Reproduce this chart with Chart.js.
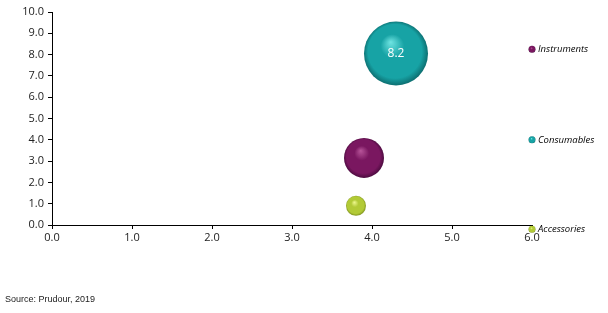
<!DOCTYPE html>
<html><head><meta charset="utf-8">
<script src="https://cdn.jsdelivr.net/npm/chart.js@4/dist/chart.umd.min.js"></script>
<style>html,body{margin:0;padding:0;background:#fff}#wrap{position:relative;width:608px;height:313px}</style>
</head><body><div id="wrap"><canvas id="c" width="608" height="313"></canvas></div>
<script>
// Data
const categories = ['Consumables', 'Instruments', 'Accessories'];
const xValues = [4.3, 3.9, 3.8];
const yValues = [8.05, 3.15, 0.9];
const sizes = [8.2, 3.2, 0.8];
const sizeLabels = ['8.2', '', ''];
const bubbleColors = [
  {light:'#6fe4e2', base:'#17a3a5', dark:'#0a6264'},
  {light:'#b8559a', base:'#7a1760', dark:'#420838'},
  {light:'#eef88f', base:'#b2ca36', dark:'#76881a'}
];
const legendLabels = ['Instruments', 'Consumables', 'Accessories'];
const legendX = [6, 6, 6];
const legendY = [8.25, 4.0, -0.2];
const legendColors = [bubbleColors[1], bubbleColors[0], bubbleColors[2]];
const xTicks = [0,1,2,3,4,5,6];
const yTicks = [0,1,2,3,4,5,6,7,8,9,10];
const maxRadius = 32;
const maxSize = Math.max(...sizes);

function applySphere(chart, dsIndex, cols) {
  const meta = chart.getDatasetMeta(dsIndex);
  const c = chart.ctx;
  meta.data.forEach((el, i) => {
    const col = cols[i];
    const r = el.options.radius;
    const px = el.x, py = el.y;
    if (![px, py, r].every(Number.isFinite)) return;
    const g = c.createRadialGradient(px - 0.17*r, py - 0.36*r, 0, px, py, r*1.05);
    g.addColorStop(0, col.light);
    g.addColorStop(0.35, col.base);
    g.addColorStop(0.8, col.base);
    g.addColorStop(1, col.dark);
    el.options.backgroundColor = g;
  });
}

const bubbleData = xValues.map((x,i)=>({x:x, y:yValues[i], r:maxRadius*Math.sqrt(sizes[i]/maxSize)}));
const legendData = legendX.map((x,i)=>({x:x, y:legendY[i], r:3.5}));

const labelPlugin = {
  id:'labels',
  beforeDatasetsDraw(chart){
    applySphere(chart, 0, bubbleColors);
    applySphere(chart, 1, legendColors);
  },
  beforeDatasetDraw(chart, args){
    if (args.index === 1) {
      const big = {left:-1e4, right:1e4, top:-1e4, bottom:1e4};
      args.meta.data.forEach(el => el.draw(chart.ctx, big));
      return false;
    }
  },
  afterDatasetsDraw(chart){
    const c = chart.ctx;
    const m0 = chart.getDatasetMeta(0);
    c.save();
    c.textAlign='center'; c.textBaseline='middle';
    c.fillStyle='#ffffff'; c.font='12px "Open Sans", sans-serif';
    m0.data.forEach((el,i)=>{ if(sizeLabels[i]) c.fillText(sizeLabels[i], el.x, el.y); });
    const m1 = chart.getDatasetMeta(1);
    c.textAlign='left'; c.fillStyle='#000'; c.font='italic 9.5px "Open Sans", sans-serif';
    m1.data.forEach((el,i)=>{ c.fillText(legendLabels[i], el.x+6, el.y); });
    c.textAlign='left'; c.font='9px "Liberation Sans", Arial, sans-serif'; c.fillStyle='#222';
    c.fillText('Source: Prudour, 2019', 5, 300);
    c.restore();
  }
};

const chart = new Chart(document.getElementById('c'), {
  type:'bubble',
  data:{datasets:[
    {label:'bubbles', data:bubbleData, backgroundColor:bubbleColors.map(c=>c.base), borderWidth:0, clip:false},
    {label:'legend', data:legendData, backgroundColor:legendColors.map(c=>c.base), borderWidth:0, clip:false}
  ]},
  options:{
    responsive:false, animation:false, events:[],
    layout:{padding:{left:0, right:76, top:12, bottom:58}},
    plugins:{legend:{display:false}, tooltip:{enabled:false}},
    scales:{
      x:{type:'linear', min:0, max:6,
        afterBuildTicks:(s)=>{s.ticks = xTicks.map(v=>({value:v}));},
        afterFit:(s)=>{s.height=30;},
        ticks:{callback:(v)=>v.toFixed(1), color:'#222', font:{size:11, family:'"Open Sans", sans-serif'}, padding:2, maxRotation:0},
        grid:{drawOnChartArea:false, drawTicks:true, tickLength:4, color:'#000'},
        border:{color:'#000', width:1}},
      y:{type:'linear', min:0, max:10,
        afterBuildTicks:(s)=>{s.ticks = yTicks.map(v=>({value:v}));},
        afterFit:(s)=>{s.width=52;},
        ticks:{callback:(v)=>v.toFixed(1), color:'#222', font:{size:11, family:'"Open Sans", sans-serif'}, padding:4},
        grid:{drawOnChartArea:false, drawTicks:true, tickLength:4, color:'#000'},
        border:{color:'#000', width:1}}
    }
  },
  plugins:[labelPlugin]
});
chart.data.datasets.forEach((d,i)=>{ chart.getDatasetMeta(i).controller.getMaxOverflow = () => 0; });
chart.update();
</script></body></html>
